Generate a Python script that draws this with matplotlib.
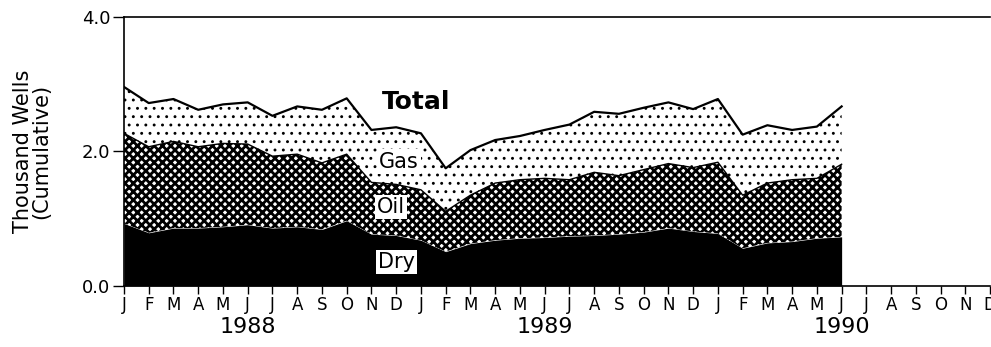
import numpy as np
import matplotlib
matplotlib.use("Agg")
import matplotlib.pyplot as plt

# Monthly well completions, Jan 1988 - Jun 1990 (thousand wells)
dry = [0.93, 0.79, 0.86, 0.86, 0.88, 0.91, 0.86, 0.88, 0.84, 0.97,
       0.77, 0.75, 0.68, 0.51, 0.63, 0.68, 0.71, 0.72, 0.74, 0.75,
       0.77, 0.80, 0.86, 0.81, 0.78, 0.56, 0.64, 0.66, 0.71, 0.73]
oil = [1.34, 1.28, 1.29, 1.21, 1.24, 1.20, 1.07, 1.08, 0.99, 0.99,
       0.77, 0.76, 0.75, 0.60, 0.72, 0.85, 0.87, 0.88, 0.84, 0.94,
       0.87, 0.93, 0.96, 0.95, 1.06, 0.79, 0.89, 0.92, 0.89, 1.08]
gas = [0.69, 0.65, 0.63, 0.55, 0.58, 0.62, 0.60, 0.71, 0.79, 0.83,
       0.78, 0.85, 0.84, 0.64, 0.67, 0.64, 0.65, 0.72, 0.82, 0.90,
       0.92, 0.92, 0.91, 0.87, 0.94, 0.90, 0.86, 0.74, 0.77, 0.86]

month_letters = list("JFMAMJJASOND") * 3
years = ["1988", "1989", "1990"]

plt.rcParams["hatch.linewidth"] = 2.0

dry = np.array(dry)
oil_top = dry + np.array(oil)
total = oil_top + np.array(gas)
x = np.arange(len(dry))

fig = plt.figure(figsize=(9.91, 3.47), dpi=100)
ax = fig.add_axes([0.1251, 0.176, 0.8740, 0.775])

ax.fill_between(x, 0, dry, facecolor="black", edgecolor="black", linewidth=0)
oil_fill = ax.fill_between(x, dry, oil_top, facecolor="white", edgecolor="black",
                           hatch="xxxx", linewidth=0)
gas_fill = ax.fill_between(x, oil_top, total, facecolor="white", edgecolor="black",
                           hatch="..", linewidth=0)
# separate hatch widths: heavy crosshatch for oil, small dots for gas
if hasattr(gas_fill, "set_hatch_linewidth"):
    oil_fill.set_hatch_linewidth(2.0)
    gas_fill.set_hatch_linewidth(0.9)
ax.plot(x, oil_top, color="black", lw=1.0)
ax.plot(x, total, color="black", lw=1.6)

txt = dict(ha="center", va="center", fontsize=15)
box = dict(facecolor="white", edgecolor="none", pad=1.5)
ax.text(11.8, 2.74, "Total", fontweight="bold", fontsize=18, ha="center", va="center")
ax.text(11.1, 1.85, "Gas", bbox=box, **txt)
ax.text(10.8, 1.18, "Oil", bbox=box, **txt)
ax.text(11.0, 0.36, "Dry", bbox=box, **txt)

ax.set_xlim(0, 35)
ax.set_ylim(0, 4.0)
ax.set_xticks(np.arange(36))
ax.set_xticklabels(month_letters, fontsize=12)
ax.set_yticks([0, 2, 4])
ax.set_yticklabels(["0.0", "2.0", "4.0"], fontsize=13)
ax.tick_params(axis="x", direction="out", length=6, width=1, pad=1)
ax.tick_params(axis="y", direction="out", length=8, width=1, pad=2)
ax.spines["right"].set_visible(False)
for s in ("left", "bottom", "top"):
    ax.spines[s].set_linewidth(1.2)

for i, yr in enumerate(years):
    ax.text(5 + 12 * i, -0.61, yr, ha="center", va="center", fontsize=16,
            clip_on=False)

ax.set_ylabel("Thousand Wells\n(Cumulative)", fontsize=15, labelpad=22,
              linespacing=0.9)

fig.savefig("out.png", dpi=100)
